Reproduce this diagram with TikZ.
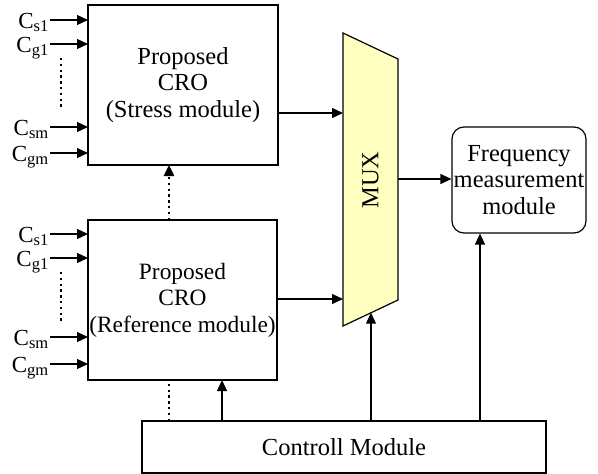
\documentclass[tikz,border=0pt]{standalone}
\usepackage{fontspec}
\setmainfont{Liberation Serif}
\usetikzlibrary{arrows.meta}
\begin{document}
\begin{tikzpicture}[x=1pt,y=-1pt,
  every node/.style={font=\rmfamily\fontsize{24.5}{26.5}\selectfont},
  box/.style={draw, line width=1.2pt, align=center, inner sep=0pt},
  arr/.style={line width=1.2pt, -{Triangle[length=11pt,width=10pt]}},
  dotline/.style={line width=2.4pt, dash pattern=on 2.4pt off 3.4pt},
  lbl/.style={anchor=base east, inner sep=0pt, font=\rmfamily\fontsize{23}{24}\selectfont}]
\useasboundingbox (0,0) rectangle (598,474);
% CRO boxes
\node[box, minimum width=190pt, minimum height=160pt] (stress) at (183,85) {Proposed\\CRO\\(Stress module)};
\node[box, minimum width=189pt, minimum height=160pt, font=\rmfamily\fontsize{23.4}{26.5}\selectfont] (ref) at (182.5,300) {Proposed\\CRO\\(Reference module)};
% MUX
\coordinate (m1) at (343,33);
\coordinate (m2) at (398,59);
\coordinate (m3) at (398,300);
\coordinate (m4) at (343,326);
\draw[line width=1.2pt, fill={rgb,255:red,255;green,255;blue,192}] (m1) -- (m2) -- (m3) -- (m4) -- cycle;
\node[rotate=90] (mux) at (370.5,180) {MUX};
\coordinate (muxin1) at (343,113);
\coordinate (muxin2) at (343,299);
\coordinate (muxout) at (398,179);
\coordinate (muxsel) at (371,312.7);
% Frequency module
\node[box, rounded corners=12pt, minimum width=134pt, minimum height=106pt] (freq) at (519,180) {Frequency\\measurement\\module};
% Control module
\node[box, minimum width=404pt, minimum height=52pt] (ctrl) at (344,447) {Controll Module};
% inputs of stress
\foreach \y/\t/\n in {20/s1/a, 44/g1/b, 127/sm/c, 153/gm/d}{
  \coordinate (si\n) at (50,\y);
  \draw[arr] (si\n) -- (88,\y);
  \node[lbl] (sl\n) at (49,\y+8) {C\textsubscript{\fontsize{16.5}{18}\selectfont\t}};
}
\foreach \y/\t/\n in {234/s1/a, 258/g1/b, 337/sm/c, 364/gm/d}{
  \coordinate (ri\n) at (50,\y);
  \draw[arr] (ri\n) -- (88,\y);
  \node[lbl] (rl\n) at (49,\y+8) {C\textsubscript{\fontsize{16.5}{18}\selectfont\t}};
}
\coordinate (d1a) at (61,58); \coordinate (d1b) at (61,110);
\coordinate (d2a) at (61,272); \coordinate (d2b) at (61,324);
\draw[dotline] (d1a) -- (d1b);
\draw[dotline] (d2a) -- (d2b);
% connectors
\draw[arr] (stress.east |- muxin1) -- (muxin1);
\draw[arr] (ref.east |- muxin2) -- (muxin2);
\draw[arr] (muxout) -- (freq.west |- muxout);
\draw[dotline, -{Triangle[length=11pt,width=10pt]}] (169,220) -- (169,165);
\draw[dotline] (169,421) -- (169,380);
\draw[arr] (ctrl.north -| 222,0) -- (222,380);
\draw[arr] (ctrl.north -| muxsel) -- (muxsel);
\draw[arr] (ctrl.north -| 480,0) -- (freq.south -| 480,0);
\end{tikzpicture}
\end{document}
